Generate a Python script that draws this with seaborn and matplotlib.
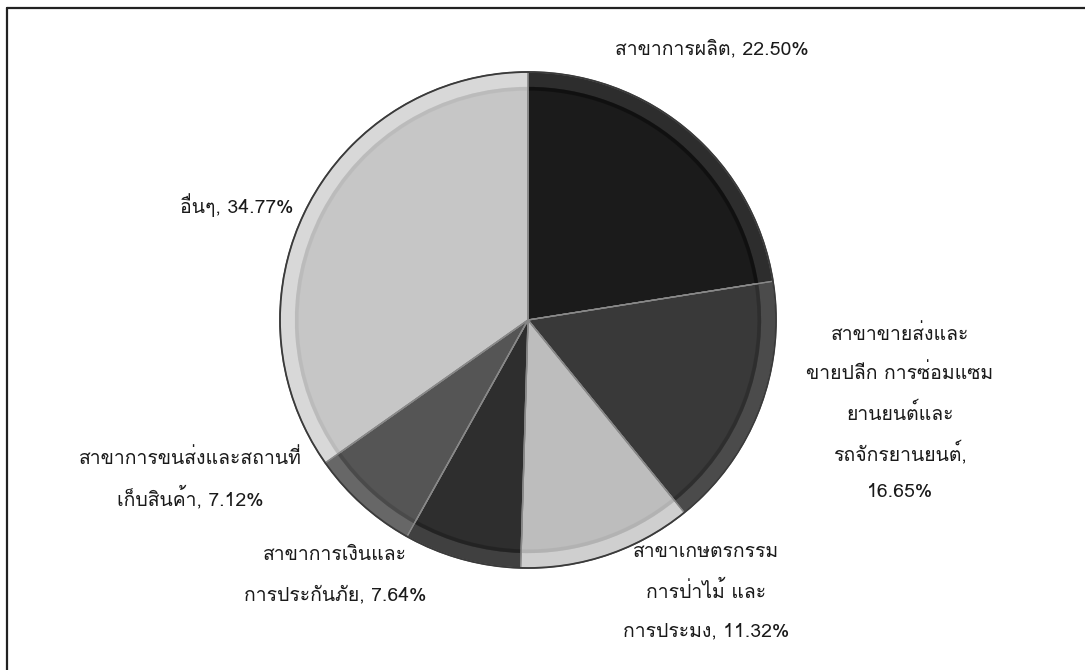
import numpy as np
import seaborn as sns
import matplotlib.pyplot as plt
from matplotlib import font_manager
from matplotlib.colors import to_rgb
from matplotlib.ft2font import FT2Font
from matplotlib.patches import Wedge

sns.set_theme(style="white")

# data, clockwise from 12 o'clock
sectors = [
    "สาขาการผลิต",
    "สาขาขายส่งและ\nขายปลีก การซ่อมแซม\nยานยนต์และ\nรถจักรยานยนต์,",
    "สาขาเกษตรกรรม\nการป่าไม้ และ\nการประมง,",
    "สาขาการเงินและ\nการประกันภัย,",
    "สาขาการขนส่งและสถานที่\nเก็บสินค้า,",
    "อื่นๆ,",
]
shares = [22.50, 16.65, 11.32, 7.64, 7.12, 34.77]

colors = ["#1b1b1b", "#393939", "#bdbdbd", "#2e2e2e", "#555555", "#c6c6c6"]
# label centre x and first-line y, in pixels from top-left
label_px = [(712, 47), (900, 332), (706, 550), (335, 553), (190, 456), (237, 203)]
line_step = 39.5


def thai_font():
    for f in font_manager.fontManager.ttflist:
        try:
            if 0x0E2A in FT2Font(f.fname).get_charmap():
                return f.name
        except Exception:
            pass
    return "DejaVu Sans"


plt.rcParams["font.family"] = [thai_font(), "DejaVu Sans"]

W, H = 1085, 670
cx, cy, R = 528, 320, 248

fig = plt.figure(figsize=(W / 100, H / 100), dpi=100)
ax = fig.add_axes([0, 0, 1, 1])

wedges, _ = ax.pie(
    shares,
    colors=colors,
    startangle=90,
    counterclock=False,
    radius=1,
    wedgeprops=dict(edgecolor="#8a8a8a", linewidth=1.0),
)
ax.set_xlim(-cx / R, (W - cx) / R)
ax.set_ylim(-(H - cy) / R, cy / R)
ax.set_aspect("equal")
ax.axis("off")

# soft bevel: lighter rim and thin inner shadow on each slice
for w, c in zip(wedges, colors):
    base = np.array(to_rgb(c))
    light = np.clip(base + 0.07, 0, 1)
    dark = np.clip(base - 0.08, 0, 1)
    ax.add_patch(Wedge((0, 0), 1.0, w.theta1, w.theta2, width=0.06,
                       facecolor=light, edgecolor="none", zorder=2))
    ax.add_patch(Wedge((0, 0), 0.94, w.theta1, w.theta2, width=0.015,
                       facecolor=dark, edgecolor="none", zorder=2, alpha=0.5))
    ax.add_patch(Wedge((0, 0), 1.0, w.theta1, w.theta2, facecolor="none",
                       edgecolor="#888888", linewidth=0.9, zorder=3))

ax.add_patch(plt.Circle((0, 0), 1.0, fill=False, edgecolor="#3a3a3a",
                        linewidth=1.3, zorder=4))

for name, val, (px, py) in zip(sectors, shares, label_px):
    if "\n" in name and name.count("\n") >= 3:
        lines = name.split("\n") + [f"{val:.2f}%"]
    elif name == "สาขาการผลิต":
        lines = [f"{name}, {val:.2f}%"]
    else:
        lines = name.split("\n")
        lines[-1] = f"{lines[-1]} {val:.2f}%"
    for i, line in enumerate(lines):
        ax.text((px - cx) / R, (cy - py - i * line_step) / R, line,
                ha="center", va="center_baseline", fontsize=14,
                color="#1a1a1a", zorder=5)

# frame: top and left edges only
fig.add_artist(plt.Line2D([7 / W, 1], [1 - 8 / H, 1 - 8 / H], color="#222222",
                          lw=1.6, transform=fig.transFigure))
fig.add_artist(plt.Line2D([7 / W, 7 / W], [0, 1 - 8 / H], color="#222222",
                          lw=1.6, transform=fig.transFigure))

fig.savefig("out.png", dpi=100, facecolor="white")
